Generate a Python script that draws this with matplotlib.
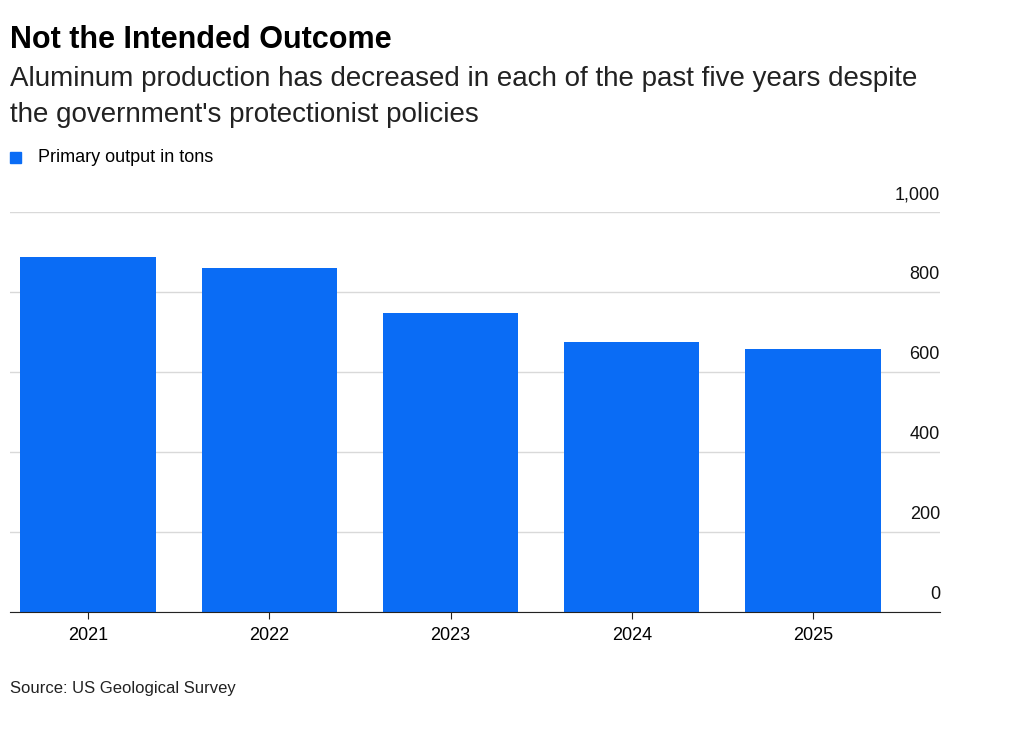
import matplotlib
matplotlib.use("Agg")
import matplotlib.pyplot as plt
import matplotlib.transforms as mt

years = ["2021", "2022", "2023", "2024", "2025"]
output = [888, 860, 748, 675, 658]
yticks = [0, 200, 400, 600, 800, 1000]
ylabels = ["0", "200", "400", "600", "800", "1,000"]

plt.rcParams['font.family'] = ['Liberation Sans', 'DejaVu Sans']
fig = plt.figure(figsize=(10.24, 7.51), dpi=100)
ax = fig.add_axes([10/1024, 1-612/751, 930/1024, 400/751])
blue = "#0a6cf5"
x = list(range(len(years)))
ax.bar(x, output, width=0.746, color=blue, zorder=2)
ax.set_xlim(-0.43, 4.70)
ax.set_ylim(0, 1000)
for s in ["top", "right", "left"]:
    ax.spines[s].set_visible(False)
ax.spines["bottom"].set_color("#222222")
ax.set_yticks(yticks)
ax.tick_params(axis="y", length=0, labelleft=False)
ax.grid(axis="y", color="#d9d9d9", lw=1, zorder=0)
ax.set_xticks(x)
ax.set_xticklabels(years, fontsize=13)
ax.tick_params(axis="x", length=5, color="#222222", pad=6)
tr = mt.blended_transform_factory(ax.transAxes, ax.transData)
for v, l in zip(yticks, ylabels):
    ax.text(1.0, v + 22, l, transform=tr, ha="right", va="bottom", fontsize=13, color="#111111")

fig.text(10/1024, 1-40/751, "Not the Intended Outcome", fontsize=22, fontweight="bold", va="center")
fig.text(10/1024, 1-97/751, "Aluminum production has decreased in each of the past five years despite\nthe government's protectionist policies",
         fontsize=20, va="center", linespacing=1.45, color="#222222")
fig.patches.append(plt.Rectangle((10/1024, 1-163/751), 11/1024, 11/751, color=blue, transform=fig.transFigure, figure=fig))
fig.text(38/1024, 1-157/751, "Primary output in tons", fontsize=13, va="center")
fig.text(10/1024, 1-689/751, "Source: US Geological Survey", fontsize=12, va="center", color="#222222")
fig.savefig("out.png", dpi=100, facecolor="white")
